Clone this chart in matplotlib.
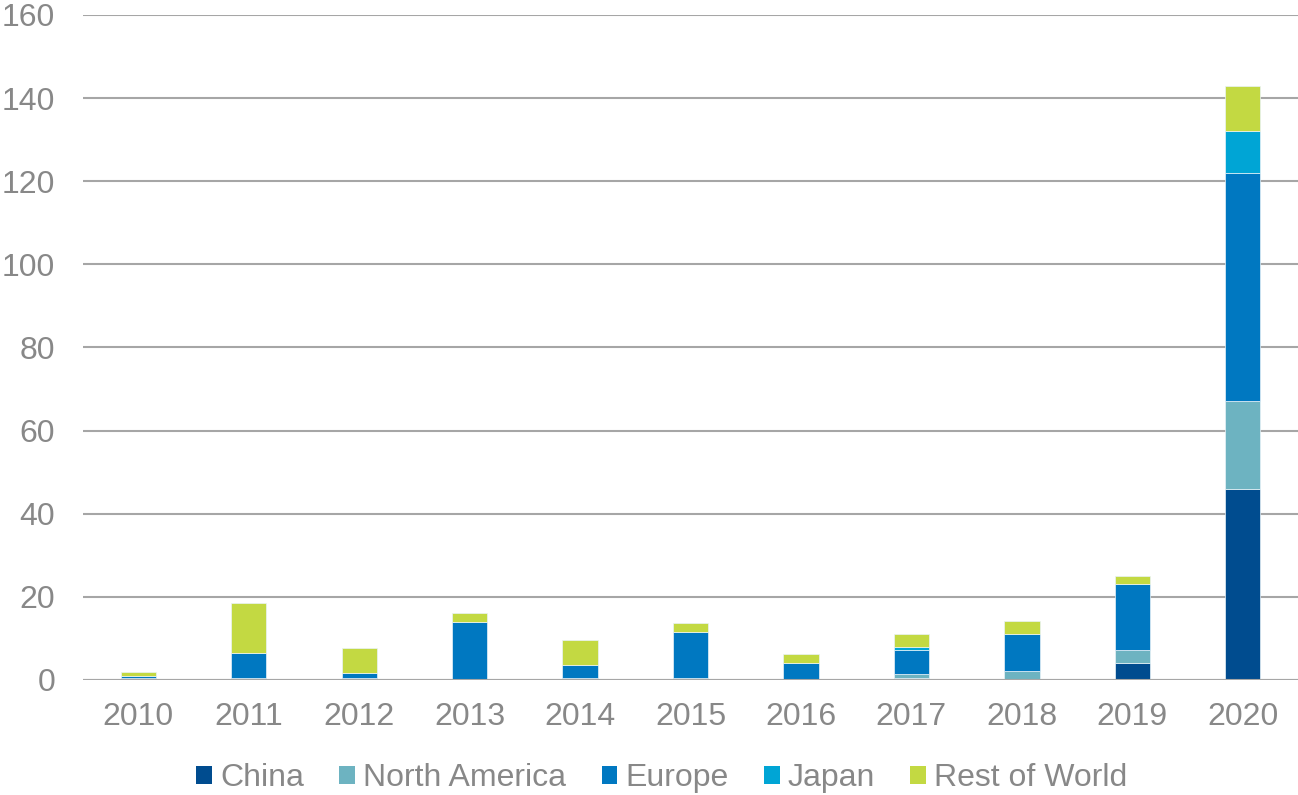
import matplotlib
matplotlib.use("Agg")
import matplotlib.pyplot as plt
import numpy as np

years = ["2010", "2011", "2012", "2013", "2014", "2015", "2016", "2017", "2018", "2019", "2020"]
china = [0.0, 0.0, 0.4, 0.0, 0.0, 0.0, 0.2, 0.5, 0.0, 4.0, 46.0]
north_america = [0.5, 0.5, 0.0, 0.0, 0.5, 0.5, 0.0, 1.0, 2.2, 3.2, 21.0]
europe = [0.4, 6.0, 1.3, 14.0, 3.1, 11.1, 4.0, 5.8, 8.9, 15.9, 55.0]
japan = [0.0, 0.0, 0.0, 0.0, 0.0, 0.0, 0.0, 0.6, 0.0, 0.0, 10.0]
rest_of_world = [1.1, 12.1, 6.0, 2.1, 6.0, 2.0, 2.0, 3.1, 3.0, 2.0, 11.0]

series = [
    ("China", china, "#004C8F"),
    ("North America", north_america, "#6DB3C1"),
    ("Europe", europe, "#0078C1"),
    ("Japan", japan, "#00A5D5"),
    ("Rest of World", rest_of_world, "#C3D942"),
]

plt.rcParams["font.family"] = ["Liberation Sans", "DejaVu Sans"]
text_color = "#888888"
grid_color = "#A6A6A6"
fs = 23

fig = plt.figure(figsize=(12.98, 7.95), dpi=100)
ax = fig.add_axes([0.064, 0.1447, 0.936, 0.8365])

x = np.arange(len(years))
bottom = np.zeros(len(years))
handles = []
for name, vals, col in series:
    v = np.array(vals)
    b = ax.bar(x, v, width=0.32, bottom=bottom, color=col, label=name,
               edgecolor="#EAF3F8", linewidth=0.5, zorder=3)
    handles.append(b)
    bottom += v

ax.set_xlim(-0.5, len(years) - 0.5)
ax.set_ylim(0, 160)
ax.set_yticks(range(0, 161, 20))
ax.set_xticks(x)
ax.set_xticklabels(years)
ax.tick_params(axis="both", length=0, labelsize=fs, colors=text_color)
ax.tick_params(axis="x", pad=16)
ax.tick_params(axis="y", pad=20)
ax.yaxis.grid(True, color=grid_color, linewidth=1.5, zorder=0)
ax.set_axisbelow(True)
for s in ax.spines.values():
    s.set_visible(False)
ax.axhline(0, color=grid_color, linewidth=1.5, zorder=4)

leg = fig.legend(handles=handles, labels=[s[0] for s in series],
                 loc="center", bbox_to_anchor=(662 / 1298, 1 - 778 / 795),
                 ncol=5, frameon=False, fontsize=fs, handlelength=0.5,
                 handleheight=0.5, handletextpad=0.25, columnspacing=1.1,
                 labelcolor=text_color)
for h in leg.legend_handles:
    h.set_edgecolor("none")

fig.savefig("out.png", dpi=100)
